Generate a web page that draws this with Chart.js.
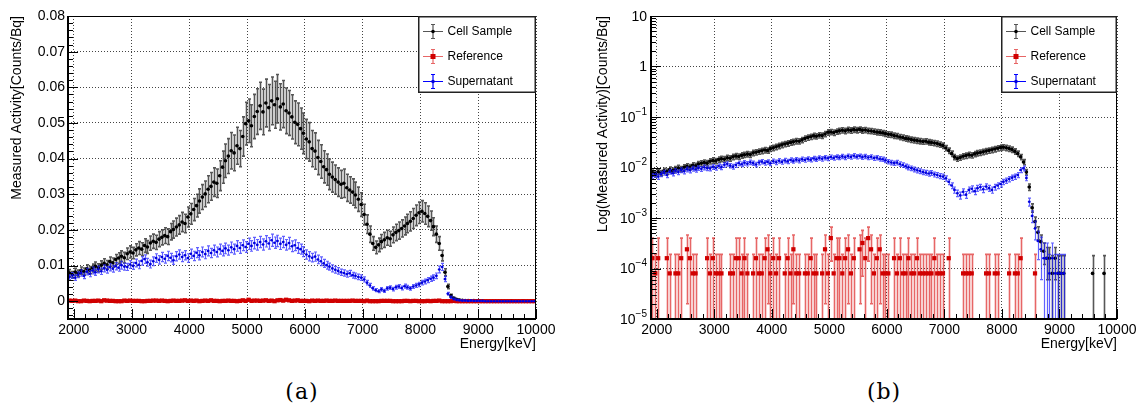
<!DOCTYPE html>
<html>
<head>
<meta charset="utf-8">
<script src="https://cdn.jsdelivr.net/npm/chart.js@4.4.0/dist/chart.umd.min.js"></script>
<style>
    html, body { margin: 0; padding: 0; background: #fff; }
    body { width: 1136px; height: 407px; overflow: hidden; position: relative; }
    canvas { position: absolute; top: 0; }
    #chartA { left: 0; }
    #chartB { left: 570px; }
    .caption { position: absolute; top: 379px; width: 80px; margin-left: -40px; text-align: center;
        font-family: 'DejaVu Serif', 'Liberation Serif', serif; font-size: 22px; line-height: 26px; letter-spacing: 1px; }
</style>
</head>
<body>
<canvas id="chartA" width="560" height="360"></canvas>
<canvas id="chartB" width="580" height="360"></canvas>
<div class="caption" style="left:302px">(a)</div>
<div class="caption" style="left:884px">(b)</div>
<script>
// bins: 50 keV wide, starting at 1900 keV
const binLow = 1900;
const binWidth = 50;

const cellSample = [
    0.0079, 0.0074, 0.0082, 0.0078, 0.0086, 0.0083, 0.0091, 0.0087, 0.0093, 0.0098,
    0.0094, 0.0101, 0.0106, 0.0102, 0.0111, 0.0108, 0.0117, 0.0121, 0.0126, 0.0122,
    0.0133, 0.0138, 0.0135, 0.0144, 0.0149, 0.0146, 0.0156, 0.0152, 0.0163, 0.0168,
    0.0165, 0.0174, 0.0179, 0.0184, 0.0181, 0.0195, 0.0201, 0.0208, 0.0214, 0.0222,
    0.0218, 0.0236, 0.0245, 0.0257, 0.0268, 0.0281, 0.0292, 0.0301, 0.0314, 0.0322,
    0.0334, 0.0331, 0.0352, 0.0376, 0.0394, 0.0407, 0.0422, 0.0416, 0.0436, 0.0428,
    0.0462, 0.0498, 0.0506, 0.0492, 0.0518, 0.0532, 0.0548, 0.0531, 0.0556, 0.0543,
    0.0562, 0.0551, 0.0568, 0.0545, 0.0553, 0.0534, 0.0528, 0.0517, 0.0502, 0.0496,
    0.0484, 0.0471, 0.0455, 0.0447, 0.0428, 0.0421, 0.0403, 0.0392, 0.0377, 0.0369,
    0.0356, 0.0348, 0.0341, 0.0334, 0.0328, 0.0331, 0.0318, 0.0312, 0.0306, 0.0298,
    0.0286, 0.0271, 0.0243, 0.0216, 0.0188, 0.0162, 0.0151, 0.0158, 0.0167, 0.0172,
    0.0178, 0.0175, 0.0186, 0.0193, 0.0198, 0.0204, 0.0211, 0.0218, 0.0224, 0.0232,
    0.0241, 0.0248, 0.0252, 0.0246, 0.0238, 0.0226, 0.0209, 0.0188, 0.0162, 0.0128,
    0.0081, 0.0041, 0.0016, 0.00085, 0.00052, 0.00034, 0.00022, 0.00016, 0.00016, 0.00008,
    0.00016, 0.00008, 0.00008, 0.00008, 0, 0, 0, 0, 0, 0,
    0, 0, 0, 0.00008, 0, 0, 0, 0.00008, 0, 0,
    0, 0
];
const cellSampleErr = [
    0.0010, 0.0009, 0.0010, 0.0009, 0.0010, 0.0010, 0.0011, 0.0010, 0.0011, 0.0012,
    0.0011, 0.0012, 0.0013, 0.0012, 0.0013, 0.0013, 0.0014, 0.0015, 0.0015, 0.0015,
    0.0016, 0.0017, 0.0016, 0.0017, 0.0018, 0.0018, 0.0019, 0.0018, 0.0020, 0.0020,
    0.0020, 0.0021, 0.0021, 0.0022, 0.0022, 0.0023, 0.0024, 0.0025, 0.0026, 0.0027,
    0.0026, 0.0028, 0.0029, 0.0031, 0.0032, 0.0034, 0.0035, 0.0036, 0.0038, 0.0039,
    0.0040, 0.0040, 0.0042, 0.0045, 0.0047, 0.0049, 0.0051, 0.0050, 0.0052, 0.0051,
    0.0055, 0.0060, 0.0061, 0.0059, 0.0062, 0.0064, 0.0066, 0.0064, 0.0067, 0.0065,
    0.0067, 0.0066, 0.0068, 0.0065, 0.0066, 0.0064, 0.0063, 0.0062, 0.0060, 0.0060,
    0.0058, 0.0057, 0.0055, 0.0054, 0.0051, 0.0051, 0.0048, 0.0047, 0.0045, 0.0044,
    0.0043, 0.0042, 0.0041, 0.0040, 0.0039, 0.0040, 0.0038, 0.0037, 0.0037, 0.0036,
    0.0034, 0.0033, 0.0029, 0.0026, 0.0023, 0.0019, 0.0018, 0.0019, 0.0020, 0.0021,
    0.0021, 0.0021, 0.0022, 0.0023, 0.0024, 0.0024, 0.0025, 0.0026, 0.0027, 0.0028,
    0.0029, 0.0030, 0.0030, 0.0030, 0.0029, 0.0027, 0.0025, 0.0023, 0.0019, 0.0015,
    0.0010, 0.0006, 0.0003, 0.0002, 0.00015, 0.00012, 0.0001, 0.0001, 0.0001, 0.0001,
    0.0001, 0.0001, 0.0001, 0.0001, 0, 0, 0, 0, 0, 0,
    0, 0, 0, 0.0001, 0, 0, 0, 0.0001, 0, 0,
    0, 0
];

const reference = [
    1.6e-4, 8e-5, 1.6e-4, 0, 0, 1.6e-4, 8e-5, 0, 8e-5, 8e-5,
    1.6e-4, 0, 2.4e-4, 1.6e-4, 8e-5, 8e-5, 0, 0, 0, 1.6e-4,
    8e-5, 1.6e-4, 8e-5, 8e-5, 8e-5, 0, 0, 8e-5, 8e-5, 1.6e-4,
    1.6e-4, 8e-5, 1.6e-4, 8e-5, 0, 8e-5, 1.6e-4, 8e-5, 8e-5, 1.6e-4,
    2.4e-4, 8e-5, 1.6e-4, 8e-5, 1.6e-4, 0, 8e-5, 1.6e-4, 8e-5, 2.4e-4,
    8e-5, 8e-5, 0, 8e-5, 8e-5, 1.6e-4, 8e-5, 8e-5, 0, 8e-5,
    2.4e-4, 8e-5, 4e-4, 8e-5, 1.6e-4, 1.6e-4, 8e-5, 1.6e-4, 2.4e-4, 8e-5,
    1.6e-4, 0, 2.4e-4, 3.2e-4, 1.6e-4, 4e-4, 2.4e-4, 8e-5, 1.6e-4, 2.4e-4,
    8e-5, 8e-5, 8e-5, 0, 1.6e-4, 8e-5, 1.6e-4, 8e-5, 8e-5, 1.6e-4,
    8e-5, 8e-5, 1.6e-4, 8e-5, 8e-5, 8e-5, 8e-5, 8e-5, 1.6e-4, 8e-5,
    8e-5, 8e-5, 0, 1.6e-4, 0, 0, 0, 0, 8e-5, 8e-5,
    8e-5, 8e-5, 0, 0, 0, 0, 8e-5, 8e-5, 0, 8e-5,
    8e-5, 0, 0, 0, 8e-5, 0, 8e-5, 8e-5, 1.6e-4, 0,
    0, 0, 0, 8e-5, 0, 0, 0, 0, 0, 0,
    0, 0, 0, 0, 0, 0, 0, 0, 0, 0,
    0, 0, 0, 0, 0, 0, 0, 0, 0, 0,
    0, 0
];
const referenceErr = [
    2.4e-4, 1.1e-4, 2.4e-4, 0, 0, 2.4e-4, 1.1e-4, 0, 1.1e-4, 1.1e-4,
    2.4e-4, 0, 2.2e-4, 2.4e-4, 1.1e-4, 1.1e-4, 0, 0, 0, 2.4e-4,
    1.1e-4, 2.4e-4, 1.1e-4, 1.1e-4, 1.1e-4, 0, 0, 1.1e-4, 1.1e-4, 2.4e-4,
    2.4e-4, 1.1e-4, 2.4e-4, 1.1e-4, 0, 1.1e-4, 2.4e-4, 1.1e-4, 1.1e-4, 2.4e-4,
    2.2e-4, 1.1e-4, 2.4e-4, 1.1e-4, 2.4e-4, 0, 1.1e-4, 2.4e-4, 1.1e-4, 2.2e-4,
    1.1e-4, 1.1e-4, 0, 1.1e-4, 1.1e-4, 2.4e-4, 1.1e-4, 1.1e-4, 0, 1.1e-4,
    2.2e-4, 1.1e-4, 2.6e-4, 1.1e-4, 2.4e-4, 2.4e-4, 1.1e-4, 2.4e-4, 2.2e-4, 1.1e-4,
    2.4e-4, 0, 2.2e-4, 2.5e-4, 2.4e-4, 2.6e-4, 2.2e-4, 1.1e-4, 2.4e-4, 2.2e-4,
    1.1e-4, 1.1e-4, 1.1e-4, 0, 2.4e-4, 1.1e-4, 2.4e-4, 1.1e-4, 1.1e-4, 2.4e-4,
    1.1e-4, 1.1e-4, 2.4e-4, 1.1e-4, 1.1e-4, 1.1e-4, 1.1e-4, 1.1e-4, 2.4e-4, 1.1e-4,
    1.1e-4, 1.1e-4, 0, 2.4e-4, 0, 0, 0, 0, 1.1e-4, 1.1e-4,
    1.1e-4, 1.1e-4, 0, 0, 0, 0, 1.1e-4, 1.1e-4, 0, 1.1e-4,
    1.1e-4, 0, 0, 0, 1.1e-4, 0, 1.1e-4, 1.1e-4, 2.4e-4, 0,
    0, 0, 0, 1.1e-4, 0, 0, 0, 0, 0, 0,
    0, 0, 0, 0, 0, 0, 0, 0, 0, 0,
    0, 0, 0, 0, 0, 0, 0, 0, 0, 0,
    0, 0
];

const supernatant = [
    0.0068, 0.0072, 0.0066, 0.0074, 0.0079, 0.0071, 0.0083, 0.0077, 0.0086, 0.0081,
    0.0089, 0.0084, 0.0092, 0.0088, 0.0095, 0.0091, 0.0098, 0.0094, 0.0101, 0.0097,
    0.0096, 0.0103, 0.0099, 0.0107, 0.0102, 0.0113, 0.0118, 0.0109, 0.0104, 0.0112,
    0.0121, 0.0116, 0.0124, 0.0119, 0.0127, 0.0122, 0.0115, 0.0126, 0.0131, 0.0124,
    0.0129, 0.0121, 0.0133, 0.0127, 0.0136, 0.0129, 0.0138, 0.0132, 0.0141, 0.0135,
    0.0143, 0.0138, 0.0146, 0.0141, 0.0148, 0.0143, 0.0151, 0.0146, 0.0155, 0.0149,
    0.0157, 0.0152, 0.0161, 0.0155, 0.0163, 0.0158, 0.0166, 0.0159, 0.0168, 0.0162,
    0.0171, 0.0164, 0.0169, 0.0161, 0.0166, 0.0158, 0.0163, 0.0154, 0.0157, 0.0149,
    0.0146, 0.0139, 0.0131, 0.0126, 0.0122, 0.0125, 0.0117, 0.0112, 0.0106, 0.0101,
    0.0097, 0.0092, 0.0088, 0.0085, 0.0081, 0.0079, 0.0076, 0.0078, 0.0073, 0.0071,
    0.0068, 0.0066, 0.0061, 0.0052, 0.0044, 0.0036, 0.0031, 0.0028, 0.0033, 0.0029,
    0.0036, 0.0038, 0.0034, 0.0039, 0.0041, 0.0037, 0.0042, 0.0039, 0.0036, 0.0041,
    0.0044, 0.0047, 0.0052, 0.0055, 0.0059, 0.0063, 0.0066, 0.0071, 0.0089, 0.0096,
    0.0062, 0.0021, 0.0011, 0.00062, 0.00035, 0.00024, 0.00016, 0.00016, 0.00008, 0.00016,
    0.00008, 0.00008, 0.00008, 0.00008, 0, 0, 0, 0, 0, 0,
    0, 0, 0, 0, 0, 0, 0, 0, 0, 0,
    0, 0
];
const supernatantErr = [
    0.00078, 0.00081, 0.00076, 0.00083, 0.00087, 0.0008, 0.0009, 0.00085, 0.00093, 0.00089,
    0.00096, 0.00091, 0.00098, 0.00095, 0.001, 0.00097, 0.001, 0.001, 0.0011, 0.001,
    0.001, 0.0011, 0.001, 0.0011, 0.0011, 0.0012, 0.0012, 0.0011, 0.0011, 0.0012,
    0.0012, 0.0012, 0.0013, 0.0012, 0.0013, 0.0012, 0.0012, 0.0013, 0.0013, 0.0013,
    0.0013, 0.0012, 0.0013, 0.0013, 0.0014, 0.0013, 0.0014, 0.0013, 0.0014, 0.0013,
    0.0014, 0.0014, 0.0014, 0.0014, 0.0015, 0.0014, 0.0015, 0.0014, 0.0015, 0.0015,
    0.0015, 0.0015, 0.0016, 0.0015, 0.0016, 0.0015, 0.0016, 0.0016, 0.0016, 0.0016,
    0.0017, 0.0016, 0.0016, 0.0016, 0.0016, 0.0015, 0.0016, 0.0015, 0.0015, 0.0015,
    0.0014, 0.0014, 0.0013, 0.0013, 0.0012, 0.0013, 0.0012, 0.0012, 0.0011, 0.0011,
    0.001, 0.00098, 0.00095, 0.00092, 0.00089, 0.00087, 0.00085, 0.00086, 0.00082, 0.0008,
    0.00078, 0.00076, 0.00072, 0.00064, 0.00057, 0.00051, 0.00046, 0.00044, 0.00048, 0.00045,
    0.00051, 0.00052, 0.00049, 0.00053, 0.00055, 0.00051, 0.00056, 0.00053, 0.00051, 0.00055,
    0.00057, 0.0006, 0.00064, 0.00067, 0.0007, 0.00074, 0.00076, 0.0008, 0.00096, 0.001,
    0.00073, 0.00038, 0.00029, 0.00025, 0.0002, 0.00018, 0.00016, 0.00016, 0.00011, 0.00016,
    0.00011, 0.00011, 0.00011, 0.00011, 0, 0, 0, 0, 0, 0,
    0, 0, 0, 0, 0, 0, 0, 0, 0, 0,
    0, 0
];

const xMajorTicks = [2000, 3000, 4000, 5000, 6000, 7000, 8000, 9000, 10000];
const yLinearTicks = [0, 0.01, 0.02, 0.03, 0.04, 0.05, 0.06, 0.07, 0.08];
const logDecades = [-5, -4, -3, -2, -1, 0, 1];

const FONT = "'Liberation Sans', Arial, Helvetica, sans-serif";
const energies = cellSample.map((_, i) => binLow + binWidth * (i + 0.5));

function points(values, errors, logScale) {
    const pts = [];
    values.forEach((v, i) => {
        if (logScale && v <= 0) return;
        pts.push({ x: energies[i], y: v, e: errors[i] });
    });
    return pts;
}

// error bars, drawn just before each dataset's markers
const errorBars = {
    id: 'errorBars',
    beforeDatasetDraw(chart, args) {
        const ds = chart.data.datasets[args.index];
        const { ctx, chartArea: a } = chart;
        const xs = chart.scales.x, ys = chart.scales.y;
        const isLog = ys.type === 'logarithmic';
        ctx.save();
        ctx.beginPath();
        ctx.rect(a.left, a.top, a.right - a.left, a.bottom - a.top);
        ctx.clip();
        ctx.strokeStyle = ds.errorColor;
        ctx.lineWidth = ds.errorWidth;
        ctx.beginPath();
        ds.data.forEach(p => {
            const px = Math.round(xs.getPixelForValue(p.x)) + 0.5;
            const py = ys.getPixelForValue(p.y);
            const lo = p.y - p.e;
            const open = isLog && lo <= 0;
            const yLo = open ? a.bottom + 2 : ys.getPixelForValue(lo);
            const yHi = ys.getPixelForValue(p.y + p.e);
            ctx.moveTo(px, yLo); ctx.lineTo(px, yHi);
            ctx.moveTo(px - 1.5, yHi); ctx.lineTo(px + 1.5, yHi);
            if (!open) { ctx.moveTo(px - 1.5, yLo); ctx.lineTo(px + 1.5, yLo); }
            ctx.moveTo(xs.getPixelForValue(p.x - binWidth / 2), py);
            ctx.lineTo(xs.getPixelForValue(p.x + binWidth / 2), py);
        });
        ctx.stroke();
        ctx.restore();
    }
};

// ROOT-like frame, tick marks, log labels, axis titles and legend
const rootFrame = {
    id: 'rootFrame',
    afterDraw(chart, args, o) {
        const { ctx, chartArea: a } = chart;
        const xs = chart.scales.x, ys = chart.scales.y;
        ctx.save();
        ctx.strokeStyle = '#000';
        ctx.lineWidth = 1;
        ctx.beginPath();
        for (let e = 2000; e <= 10000; e += 200) {
            const px = Math.round(xs.getPixelForValue(e)) + 0.5;
            const len = e % 1000 === 0 ? 10 : 5;
            ctx.moveTo(px, a.bottom); ctx.lineTo(px, a.bottom - len);
        }
        if (o.log) {
            logDecades.forEach(d => {
                for (let k = 1; k <= 9; k++) {
                    const v = k * Math.pow(10, d);
                    if (v > ys.max * 1.0001) break;
                    const py = Math.round(ys.getPixelForValue(v)) + 0.5;
                    ctx.moveTo(a.left, py); ctx.lineTo(a.left + (k === 1 ? 10 : 5), py);
                }
            });
        } else {
            for (let j = -2; j <= 40; j++) {
                const py = Math.round(ys.getPixelForValue(j * 0.002)) + 0.5;
                ctx.moveTo(a.left, py); ctx.lineTo(a.left + (j % 5 === 0 ? 10 : 5), py);
            }
        }
        ctx.stroke();

        // frame
        ctx.strokeRect(a.left + 0.5, a.top + 0.5, a.right - a.left - 1, a.bottom - a.top - 1);
        ctx.lineWidth = 2;
        ctx.beginPath();
        ctx.moveTo(a.left, a.top); ctx.lineTo(a.left, a.bottom);
        ctx.lineTo(a.right, a.bottom);
        ctx.stroke();

        ctx.fillStyle = '#000';
        // log tick labels with superscripts
        if (o.log) {
            logDecades.forEach(d => {
                const py = ys.getPixelForValue(Math.pow(10, d));
                const xr = a.left - 4;
                ctx.textBaseline = 'middle';
                ctx.textAlign = 'right';
                if (d === 0 || d === 1) {
                    ctx.font = '14px ' + FONT;
                    ctx.fillText(d === 0 ? '1' : '10', xr, py + 1);
                } else {
                    ctx.font = '10px ' + FONT;
                    const exp = '\u2212' + Math.abs(d);
                    const ew = ctx.measureText(exp).width;
                    ctx.fillText(exp, xr, py - 5);
                    ctx.font = '14px ' + FONT;
                    ctx.fillText('10', xr - ew, py + 1);
                }
            });
        }

        // axis titles
        ctx.font = '14px ' + FONT;
        ctx.textAlign = 'right';
        ctx.textBaseline = 'middle';
        ctx.fillText('Energy[keV]', a.right, 344);
        ctx.save();
        ctx.translate(o.yTitleX, a.top);
        ctx.rotate(-Math.PI / 2);
        ctx.fillText(o.yTitle, 0, 0);
        ctx.restore();

        // legend
        const bx = a.right - o.legendWidth, by = a.top, bh = 77;
        ctx.fillStyle = '#fff';
        ctx.fillRect(bx, by, o.legendWidth, bh);
        ctx.strokeStyle = '#222';
        ctx.lineWidth = 1.5;
        ctx.strokeRect(bx + 0.75, by + 0.75, o.legendWidth - 1.5, bh - 1.5);
        const entries = chart.data.datasets.slice().sort((p, q) => p.legendRank - q.legendRank);
        entries.forEach((ds, i) => {
            const cx = bx + 15, cy = by + 15.5 + i * 25;
            ctx.strokeStyle = ds.legendColor;
            ctx.lineWidth = 1.2;
            ctx.beginPath();
            ctx.moveTo(cx - 10, cy); ctx.lineTo(cx + 10, cy);
            ctx.moveTo(cx, cy - 7); ctx.lineTo(cx, cy + 7);
            ctx.moveTo(cx - 2, cy - 7); ctx.lineTo(cx + 2, cy - 7);
            ctx.moveTo(cx - 2, cy + 7); ctx.lineTo(cx + 2, cy + 7);
            ctx.stroke();
            ctx.fillStyle = ds.pointBackgroundColor;
            if (ds.pointStyle === 'rect') {
                ctx.fillRect(cx - 2.5, cy - 2.5, 5, 5);
            } else {
                ctx.beginPath();
                ctx.arc(cx, cy, 1.8, 0, Math.PI * 2);
                ctx.fill();
            }
            ctx.fillStyle = '#000';
            ctx.font = '12px ' + FONT;
            ctx.textAlign = 'left';
            ctx.textBaseline = 'middle';
            ctx.fillText(ds.label, bx + 29.5, cy + 0.5);
        });
        ctx.restore();
    }
};

function makeChart(id, logScale, frameOpts, yWidth, padRight) {
    const datasets = [
        {
            label: 'Cell Sample', legendRank: 0, order: 2,
            data: points(cellSample, cellSampleErr, logScale),
            errorColor: 'rgba(45,45,45,0.8)', errorWidth: 1.6, legendColor: '#555',
            pointStyle: 'circle', pointRadius: 1.8, pointBackgroundColor: '#000', pointBorderWidth: 0
        },
        {
            label: 'Reference', legendRank: 1, order: 1,
            data: points(reference, referenceErr, logScale),
            errorColor: 'rgba(215,0,0,0.6)', errorWidth: 1.6, legendColor: 'rgba(215,0,0,0.6)',
            pointStyle: 'rect', pointRadius: 3, pointBackgroundColor: '#d00000', pointBorderWidth: 0
        },
        {
            label: 'Supernatant', legendRank: 2, order: 0,
            data: points(supernatant, supernatantErr, logScale),
            errorColor: 'rgba(30,30,255,0.7)', errorWidth: 1.2, legendColor: '#0000ff',
            pointStyle: 'circle', pointRadius: 1.3, pointBackgroundColor: '#0000dd', pointBorderWidth: 0
        }
    ];

    const yScale = logScale ? {
        type: 'logarithmic', min: 1e-5, max: 10,
        afterBuildTicks: s => { s.ticks = logDecades.map(d => ({ value: Math.pow(10, d) })); },
        ticks: { display: false }
    } : {
        type: 'linear', min: -0.005, max: 0.08,
        afterBuildTicks: s => { s.ticks = yLinearTicks.map(v => ({ value: v })); },
        ticks: {
            padding: 3, color: '#000',
            font: { family: FONT, size: 14 },
            callback: v => Math.abs(v) < 1e-9 ? '0' : v.toFixed(2)
        }
    };
    yScale.afterFit = s => { s.width = yWidth; };
    yScale.grid = { color: '#444', lineWidth: 1, drawTicks: false };
    yScale.border = { display: false, dash: [1, 2] };

    new Chart(document.getElementById(id).getContext('2d'), {
        type: 'scatter',
        data: { datasets: datasets },
        options: {
            responsive: false,
            animation: false,
            events: [],
            layout: { padding: { top: 16, right: padRight, left: 0, bottom: 0 } },
            scales: {
                x: {
                    type: 'linear', min: 1900, max: 10000,
                    afterFit: s => { s.height = 41; },
                    afterBuildTicks: s => { s.ticks = xMajorTicks.map(v => ({ value: v })); },
                    ticks: {
                        autoSkip: false, maxRotation: 0, padding: 3, color: '#000',
                        font: { family: FONT, size: 14 },
                        callback: v => String(v)
                    },
                    grid: { color: '#444', lineWidth: 1, drawTicks: false },
                    border: { display: false, dash: [1, 2] }
                },
                y: yScale
            },
            plugins: {
                legend: { display: false },
                tooltip: { enabled: false },
                rootFrame: frameOpts
            }
        },
        plugins: [errorBars, rootFrame]
    });
}

makeChart('chartA', false,
    { log: false, yTitle: 'Measured Activity[Counts/Bq]', yTitleX: 17, legendWidth: 118 }, 68, 24);
makeChart('chartB', true,
    { log: true, yTitle: 'Log(Measured Activity)[Counts/Bq]', yTitleX: 33, legendWidth: 116 }, 81, 33);
</script>
</body>
</html>
